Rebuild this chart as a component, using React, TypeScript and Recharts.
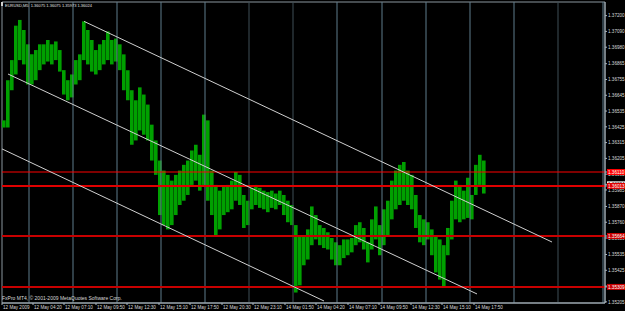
import { ComposedChart, Bar, XAxis, YAxis, ReferenceLine, ReferenceArea } from 'recharts';

// EURUSD M5 bars, sampled every 4 bars (high / low)
const highs = [
  1.3647, 1.3675, 1.3689, 1.3713, 1.3717, 1.371, 1.37, 1.3693, 1.3696, 1.37,
  1.37, 1.3703, 1.37, 1.3702, 1.3696, 1.3682, 1.3675, 1.3679, 1.3689, 1.3693,
  1.3716, 1.371, 1.3703, 1.3696, 1.37, 1.3703, 1.3709, 1.3703, 1.3704, 1.37,
  1.3693, 1.3682, 1.3668, 1.3661, 1.367, 1.3665, 1.3658, 1.3644, 1.3633, 1.3619,
  1.3612, 1.3609, 1.3605, 1.3609, 1.3612, 1.3616, 1.3619, 1.3626, 1.363, 1.3623,
  1.3651, 1.3647, 1.3612, 1.3602, 1.3598, 1.3601, 1.3602, 1.3605, 1.3611, 1.3609,
  1.3595, 1.3591, 1.36, 1.3602, 1.36, 1.3598, 1.3597, 1.3598, 1.3596, 1.3598,
  1.3595, 1.3591, 1.3588, 1.3574, 1.3567, 1.3567, 1.3571, 1.3587, 1.3581, 1.3574,
  1.3572, 1.3569, 1.3565, 1.3562, 1.356, 1.3564, 1.3564, 1.3565, 1.3574, 1.3576,
  1.3572, 1.3562, 1.3578, 1.3587, 1.3574, 1.3585, 1.3591, 1.3605, 1.3612, 1.3616,
  1.3618, 1.3612, 1.3609, 1.3595, 1.3581, 1.3578, 1.3576, 1.3571, 1.3567, 1.3564,
  1.356, 1.3572, 1.3591, 1.3605, 1.3602, 1.3598, 1.3607, 1.3595, 1.3616, 1.3623,
  1.3619,
];
const lows = [
  1.3642, 1.3642, 1.3668, 1.3679, 1.3689, 1.3686, 1.3672, 1.3672, 1.3675, 1.3682,
  1.3686, 1.3688, 1.3686, 1.3689, 1.3681, 1.3665, 1.3661, 1.3663, 1.3672, 1.3675,
  1.3689, 1.3686, 1.3681, 1.3679, 1.3682, 1.3686, 1.3689, 1.3686, 1.3688, 1.3682,
  1.3668, 1.3661, 1.363, 1.3633, 1.364, 1.3637, 1.3633, 1.3619, 1.3609, 1.3581,
  1.3574, 1.3571, 1.3574, 1.3581, 1.3588, 1.3591, 1.3595, 1.3602, 1.3605, 1.3598,
  1.3602, 1.3591, 1.3581, 1.3566, 1.3571, 1.3581, 1.3583, 1.3585, 1.3591, 1.3588,
  1.3572, 1.3574, 1.3585, 1.3588, 1.3586, 1.3585, 1.3583, 1.3586, 1.3585, 1.3588,
  1.3581, 1.3576, 1.3574, 1.3527, 1.3532, 1.3546, 1.355, 1.356, 1.3564, 1.356,
  1.3558, 1.3557, 1.355, 1.3546, 1.3546, 1.3551, 1.3553, 1.3555, 1.356, 1.3562,
  1.3557, 1.3548, 1.3557, 1.3564, 1.3553, 1.356, 1.3567, 1.3578, 1.3585, 1.3588,
  1.3591, 1.3588, 1.3585, 1.3572, 1.3562, 1.356, 1.3564, 1.3553, 1.3541, 1.3536,
  1.3531, 1.3553, 1.3564, 1.3578, 1.3576, 1.3578, 1.3579, 1.3578, 1.3595, 1.3602,
  1.3596,
];

const priceTicks = [
  1.372, 1.3709, 1.3698, 1.36865, 1.36755, 1.36645, 1.36535, 1.36425, 1.36315, 1.36205,
  1.36095, 1.35985, 1.3587, 1.3576, 1.3565, 1.35535, 1.35425, 1.35315, 1.35205,
];
const timeTicks = [0, 31, 62, 94, 125, 157, 188, 220, 251, 283, 314, 346, 377, 409, 440, 472];
const timeLabels = [
  '12 May 2009', '12 May 04:20', '12 May 07:10', '12 May 09:50', '12 May 12:30', '12 May 15:10',
  '12 May 17:50', '12 May 20:30', '12 May 23:10', '14 May 01:50', '14 May 04:20', '14 May 07:10',
  '14 May 09:50', '14 May 12:30', '14 May 15:10', '14 May 17:50',
];
const separators = [27, 71, 115, 159, 203, 247, 291, 335, 380, 424, 468, 512, 556, 601];
const dimSeparators = [247, 291, 556];

const levels = [1.3611, 1.36013, 1.35664, 1.35309];
const levelColors = ['#ff0000', '#e00000', '#c80000', '#c80000'];
const levelWidths = [1, 2, 2, 2];
const lastPrice = 1.36024;

const channels = [
  [{ x: 82, y: 1.3716 }, { x: 550, y: 1.35622 }],
  [{ x: 6, y: 1.36793 }, { x: 475, y: 1.3526 }],
  [{ x: 0, y: 1.36271 }, { x: 322, y: 1.35211 }],
];

const data = highs.map((h, i) => ({ bar: i * 4 + 2, range: [lows[i], h] }));

const FONT = '"Liberation Sans", Arial, sans-serif';

const PriceTick = (props: any) => {
  const { x, y, payload } = props;
  const v = payload.value;
  const li = levels.indexOf(v);
  if (li >= 0 || v === lastPrice) {
    const bg = li >= 0 ? levelColors[li] : '#ffffff';
    return (
      <g>
        <rect x={x - 1} y={y - 3} width={20} height={6} fill={bg} />
        <text x={x} y={y + 1.8} fontSize={4.6} fontFamily={FONT} fill={li >= 0 ? '#ffffff' : '#000000'}>
          {v.toFixed(5)}
        </text>
      </g>
    );
  }
  return (
    <text x={x} y={y + 1.8} fontSize={4.6} fontFamily={FONT} fill="#d8d8d8">
      {v.toFixed(5)}
    </text>
  );
};

const TimeTick = (props: any) => {
  const { x, y, payload } = props;
  const label = timeLabels[timeTicks.indexOf(payload.value)];
  return (
    <text x={x + 1} y={y + 2.5} fontSize={4.6} fontFamily={FONT} fill="#d8d8d8">
      {label}
    </text>
  );
};

export default function App() {
  return (
    <div style={{ position: 'fixed', left: 0, top: 0, width: 625, height: 311, background: '#000' }}>
      <ComposedChart
        width={625}
        height={311}
        data={data}
        margin={{ top: 2, right: 0, left: 2, bottom: 0 }}
        barGap={0}
        barCategoryGap={0}
      >
        <XAxis
          dataKey="bar"
          type="number"
          domain={[0, 603]}
          allowDataOverflow
          ticks={timeTicks}
          interval={0}
          height={8}
          tickSize={2}
          tickMargin={1}
          axisLine={{ stroke: '#a8b4bc' }}
          tickLine={{ stroke: '#a8b4bc' }}
          tick={<TimeTick />}
        />
        <YAxis
          orientation="right"
          type="number"
          domain={[1.35197, 1.37295]}
          allowDataOverflow
          ticks={[...priceTicks, lastPrice, ...levels]}
          interval={0}
          width={20}
          tickSize={2}
          tickMargin={1}
          axisLine={{ stroke: '#a8b4bc' }}
          tickLine={{ stroke: '#a8b4bc' }}
          tick={<PriceTick />}
        />
        <ReferenceArea x1={0} x2={603} y1={1.35197} y2={1.37295} fill="none" stroke="#8a969e" ifOverflow="visible" />
        {separators.map((s) => (
          <ReferenceLine key={s} x={s} stroke={dimSeparators.includes(s) ? '#3e4e56' : '#5e7c8c'} />
        ))}
        <Bar dataKey="range" fill="#00a000" barSize={5} isAnimationActive={false} />
        {levels.map((l, i) => (
          <ReferenceLine key={l} y={l} stroke={levelColors[i]} strokeWidth={levelWidths[i]} />
        ))}
        {channels.map((seg, i) => (
          <ReferenceLine key={i} segment={seg} stroke="#d0d0d0" strokeWidth={1} ifOverflow="visible" />
        ))}
      </ComposedChart>
      <svg width={625} height={311} style={{ position: 'absolute', left: 0, top: 0, pointerEvents: 'none' }}>
        <rect x={1} y={2} width={2} height={4} fill="#d0d0d0" />
        <text x={5} y={6.5} fontSize={4} fontFamily={FONT} fill="#e0e0e0" xmlSpace="preserve">
          EURUSD,M5  1.36075 1.36075 1.35973 1.36024
        </text>
        <text x={2} y={300} fontSize={5} fontFamily={FONT} fill="#d8d8d8">
          FxPro MT4, © 2001-2009 MetaQuotes Software Corp.
        </text>
      </svg>
    </div>
  );
}
